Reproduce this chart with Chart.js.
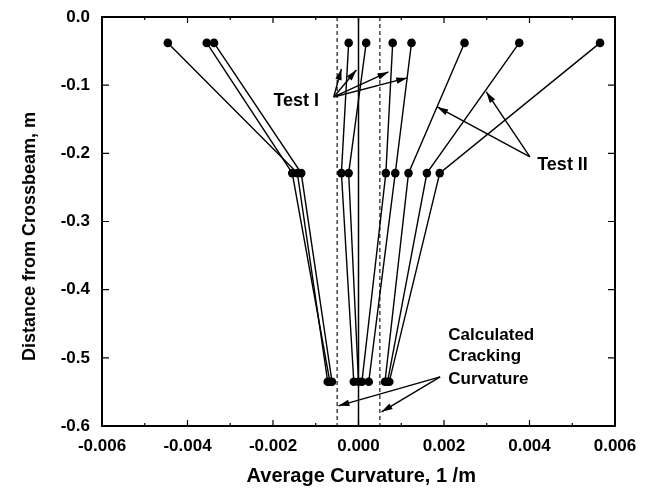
<!DOCTYPE html>
<html>
<head>
<meta charset="utf-8">
<script src="https://cdn.jsdelivr.net/npm/chart.js@4"></script>
<style>
  html, body { margin: 0; padding: 0; background: #fff; }
  #wrap { width: 646px; height: 492px; }
</style>
</head>
<body>
<div id="wrap"><canvas id="chart" width="646" height="492"></canvas></div>
<script>
/* ---- data ---- */

// gauge depths below the crossbeam (m)
const depths = [-0.038, -0.229, -0.535];

// average curvature (1/m) of each of the ten curves, at each depth
const curvTop = [-0.00446, -0.00355, -0.00338, -0.00023, 0.00018, 0.00080, 0.00124, 0.00248, 0.00376, 0.00565];
const curvMid = [-0.00143, -0.00155, -0.00134, -0.00040, -0.00023, 0.00064, 0.00086, 0.00117, 0.00160, 0.00190];
const curvBot = [-0.00072, -0.00067, -0.00062, -0.00011, 0.00000, 0.00008, 0.00024, 0.00062, 0.00068, 0.00072];

// calculated cracking curvature (+/-) and the zero line
const crackCurv = [-0.0005, 0.0005];
const zeroCurv = 0;

// axis tick labels
const xTicks = ['-0.006', '-0.004', '-0.002', '0.000', '0.002', '0.004', '0.006'];
const yTicks = ['0.0', '-0.1', '-0.2', '-0.3', '-0.4', '-0.5', '-0.6'];

// callouts (data units): text lines and arrows
const labels = [
  { text: 'Test I', x: -0.00199, y: -0.1232, size: 18 },
  { text: 'Test II', x: 0.00418, y: -0.2170, size: 18 },
  { text: 'Calculated', x: 0.00210, y: -0.4663, size: 17 },
  { text: 'Cracking', x: 0.00210, y: -0.4985, size: 17 },
  { text: 'Curvature', x: 0.00210, y: -0.5308, size: 17 }
];
const arrows = [
  { from: [-0.00058, -0.1173], to: [-0.00040, -0.0762] },
  { from: [-0.00058, -0.1173], to: [-0.00005, -0.0777] },
  { from: [-0.00058, -0.1173], to: [0.00070, -0.0806] },
  { from: [-0.00058, -0.1173], to: [0.00114, -0.0894] },
  { from: [0.00401, -0.2053], to: [0.00184, -0.1320] },
  { from: [0.00401, -0.2053], to: [0.00299, -0.1100] },
  { from: [0.00191, -0.5279], to: [-0.00047, -0.5704] },
  { from: [0.00191, -0.5279], to: [0.00054, -0.5792] }
];

/* ---- build datasets ---- */

const FONT = "'Liberation Sans', Arial, Helvetica, sans-serif";
const yMin = -0.6, yMax = 0;

const curveSets = curvTop.map((_, i) => ({
  data: [curvTop[i], curvMid[i], curvBot[i]].map((x, k) => ({ x, y: depths[k] })),
  borderColor: '#000',
  backgroundColor: '#000',
  borderWidth: 1.4,
  pointRadius: 4.3,
  pointBorderWidth: 0,
  showLine: true,
  order: 1
}));

const refSets = [
  ...crackCurv.map(c => ({
    data: [{ x: c, y: yMax }, { x: c, y: yMin }],
    borderColor: '#000', borderWidth: 1.1, borderDash: [4, 3],
    pointRadius: 0, showLine: true, order: 2
  })),
  {
    data: [{ x: zeroCurv, y: yMax }, { x: zeroCurv, y: yMin }],
    borderColor: '#000', borderWidth: 1.5,
    pointRadius: 0, showLine: true, order: 2
  }
];

/* ---- frame, inward ticks, callouts ---- */

const framePlugin = {
  id: 'frame',
  afterDatasetsDraw(chart) {
    const { ctx, chartArea: a, scales: { x, y } } = chart;
    ctx.save();
    ctx.strokeStyle = '#000';
    ctx.lineWidth = 2;
    ctx.strokeRect(a.left, a.top, a.right - a.left, a.bottom - a.top);

    // x ticks (major every 0.002, minor between), bottom and top
    ctx.lineWidth = 1.2;
    x.ticks.forEach((t, i) => {
      const px = x.getPixelForValue(t.value);
      const len = i % 2 === 0 ? 6 : 3;
      ctx.beginPath();
      ctx.moveTo(px, a.bottom); ctx.lineTo(px, a.bottom - len);
      ctx.moveTo(px, a.top); ctx.lineTo(px, a.top + len);
      ctx.stroke();
    });
    // y ticks, left and right
    y.ticks.forEach(t => {
      const py = y.getPixelForValue(t.value);
      ctx.beginPath();
      ctx.moveTo(a.left, py); ctx.lineTo(a.left + 7, py);
      ctx.moveTo(a.right, py); ctx.lineTo(a.right - 7, py);
      ctx.stroke();
    });

    // arrows
    ctx.fillStyle = '#000';
    ctx.lineWidth = 1.4;
    arrows.forEach(ar => {
      const x0 = x.getPixelForValue(ar.from[0]), y0 = y.getPixelForValue(ar.from[1]);
      const x1 = x.getPixelForValue(ar.to[0]), y1 = y.getPixelForValue(ar.to[1]);
      const ang = Math.atan2(y1 - y0, x1 - x0);
      ctx.beginPath();
      ctx.moveTo(x0, y0); ctx.lineTo(x1, y1);
      ctx.stroke();
      const hl = 11, hw = 3.2;
      ctx.beginPath();
      ctx.moveTo(x1, y1);
      ctx.lineTo(x1 - hl * Math.cos(ang) + hw * Math.sin(ang), y1 - hl * Math.sin(ang) - hw * Math.cos(ang));
      ctx.lineTo(x1 - hl * Math.cos(ang) - hw * Math.sin(ang), y1 - hl * Math.sin(ang) + hw * Math.cos(ang));
      ctx.closePath();
      ctx.fill();
    });

    // callout text
    ctx.textAlign = 'left';
    ctx.textBaseline = 'middle';
    labels.forEach(l => {
      ctx.font = 'bold ' + l.size + 'px ' + FONT;
      ctx.fillText(l.text, x.getPixelForValue(l.x), y.getPixelForValue(l.y));
    });
    ctx.restore();
  }
};

new Chart(document.getElementById('chart'), {
  type: 'scatter',
  data: { datasets: [...curveSets, ...refSets] },
  options: {
    responsive: false,
    animation: false,
    layout: { padding: { top: 17, right: 31, left: 19, bottom: 4 } },
    plugins: { legend: { display: false }, tooltip: { enabled: false } },
    scales: {
      x: {
        type: 'linear',
        min: -0.006, max: 0.006,
        afterFit: s => { s.height = 62; },
        afterBuildTicks: s => { s.ticks = []; for (let k = 0; k <= 12; k++) s.ticks.push({ value: -0.006 + k * 0.001 }); },
        grid: { display: false },
        border: { display: false },
        ticks: {
          autoSkip: false, maxRotation: 0, padding: 2,
          color: '#000',
          font: { family: FONT, size: 17, weight: 'bold' },
          callback: (v, i) => (i % 2 === 0 ? xTicks[i / 2] : '')
        },
        title: {
          display: true,
          text: ' Average Curvature, 1 /m',
          color: '#000',
          font: { family: FONT, size: 20, weight: 'bold' },
          padding: { top: 0, bottom: 0 }
        }
      },
      y: {
        type: 'linear',
        min: yMin, max: yMax,
        afterFit: s => { s.width = 83; },
        afterBuildTicks: s => { s.ticks = yTicks.map((_, k) => ({ value: -k / 10 })); },
        grid: { display: false },
        border: { display: false },
        ticks: {
          autoSkip: false, padding: 4,
          color: '#000',
          font: { family: FONT, size: 17, weight: 'bold' },
          callback: (v, i) => yTicks[i]
        },
        title: {
          display: true,
          text: 'Distance from Crossbeam, m      ',
          color: '#000',
          font: { family: FONT, size: 18, weight: 'bold' },
          padding: { top: 0, bottom: 0 }
        }
      }
    }
  },
  plugins: [framePlugin]
});
</script>
</body>
</html>
